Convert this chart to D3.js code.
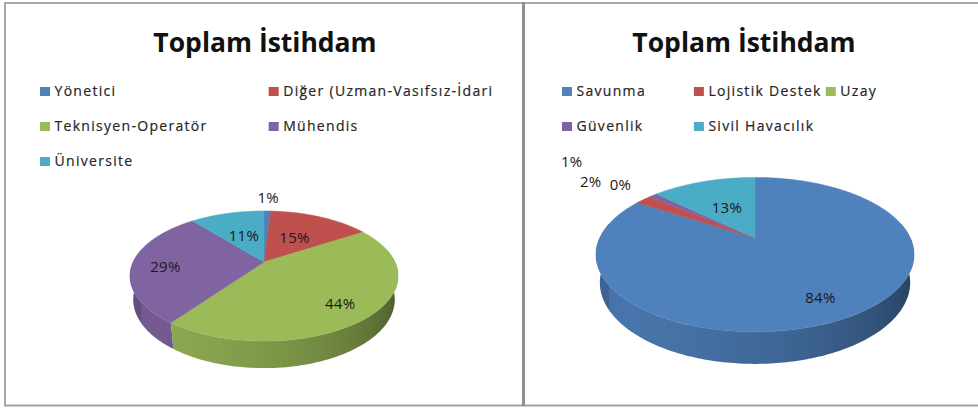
<!DOCTYPE html>
<html>
<head>
<meta charset="utf-8">
<script src="https://cdn.jsdelivr.net/npm/d3@7"></script>
<style>
  body { margin: 0; background: #fff; }
  svg { display: block; font-family: "Open Sans", "DejaVu Sans", sans-serif; }
</style>
</head>
<body>
<script>
// left chart
var leftTitle = "Toplam İstihdam";
var leftCategories = ["Yönetici", "Diğer (Uzman-Vasıfsız-İdari", "Teknisyen-Operatör", "Mühendis", "Üniversite"];
var leftValues = [1, 15, 44, 29, 11];

// right chart
var rightTitle = "Toplam İstihdam";
var rightCategories = ["Savunma", "Lojistik Destek", "Uzay", "Güvenlik", "Sivil Havacılık"];
var rightValues = [84, 2, 0, 1, 13];

// office 2007 colours
var palette = ["#4f81bd", "#c0504d", "#9bbb59", "#8064a2", "#4bacc6"];

var W = 978, H = 408;

// camera for the 3d pie (tilt ~28deg, mild perspective)
var tilt = 28.3 * Math.PI / 180;
var camDist = 4.088;
var thick = 0.206;

var fmt = d3.format(".0%");

var svg = d3.select("body").append("svg")
    .attr("width", W)
    .attr("height", H);
var defs = svg.append("defs");

// frame lines
var frame = svg.append("g").attr("fill", "none");
frame.append("line").attr("x1", 4).attr("x2", W).attr("y1", 3).attr("y2", 3)
    .attr("stroke", "#a7a7ae").attr("stroke-width", 2);
frame.append("line").attr("x1", 5).attr("x2", 5).attr("y1", 2).attr("y2", 406)
    .attr("stroke", "#a7a7ae").attr("stroke-width", 2);
frame.append("line").attr("x1", 4).attr("x2", W).attr("y1", 405.5).attr("y2", 405.5)
    .attr("stroke", "#a0a0a6").attr("stroke-width", 2);
frame.append("line").attr("x1", 523.5).attr("x2", 523.5).attr("y1", 2).attr("y2", 406)
    .attr("stroke", "#909094").attr("stroke-width", 3);

var panels = [
  {id: "l", title: leftTitle, cats: leftCategories, vals: leftValues,
   titleX: 265, legendX: 40, cols: 2, cx: 264, cy: 262, size: 130.9},
  {id: "r", title: rightTitle, cats: rightCategories, vals: rightValues,
   titleX: 744, legendX: 562, cols: 3, cx: 755, cy: 238, size: 155.3}
];

function projector(cx, cy, a) {
  var f = a * camDist;
  return function (theta, r, y) {
    var X = r * Math.sin(theta), Z = r * Math.cos(theta);
    var yc = y * Math.cos(tilt) + Z * Math.sin(tilt);
    var zc = camDist + Z * Math.cos(tilt) - y * Math.sin(tilt);
    return [cx + f * X / zc, cy - f * yc / zc];
  };
}

function shade(col, b) {
  var c = d3.rgb(col);
  return d3.rgb(c.r * b, c.g * b, c.b * b).toString();
}

// light comes from the front left
function wallLight(theta) {
  var d = -0.7 * Math.sin(theta) - 0.7 * Math.cos(theta);
  return 0.62 + 0.28 * d;
}

function drawPanel(p) {
  var g = svg.append("g");

  g.append("text")
      .attr("x", p.titleX)
      .attr("y", 52)
      .attr("text-anchor", "middle")
      .attr("font-size", "26.5px")
      .attr("font-weight", "bold")
      .attr("fill", "#111")
      .text(p.title);

  // legend
  var legend = g.append("g");
  var items = legend.selectAll("g")
      .data(p.cats)
      .enter()
      .append("g");
  items.append("rect")
      .attr("x", 0).attr("y", -9)
      .attr("width", 10).attr("height", 9)
      .attr("fill", function (d, i) { return palette[i]; });
  items.append("text")
      .attr("x", 14.5)
      .attr("y", 0)
      .attr("font-size", "14px")
      .attr("letter-spacing", "1.3px")
      .attr("fill", "#262626")
      .attr("stroke", "#262626")
      .attr("stroke-width", 0.2)
      .text(function (d) { return d; });
  var maxW = d3.max(items.nodes(), function (n) { return n.getBBox().width; });
  var colW = maxW + 4;
  items.attr("transform", function (d, i) {
    return "translate(" + (p.legendX + (i % p.cols) * colW) + "," + (96 + Math.floor(i / p.cols) * 35) + ")";
  });

  // pie
  var data = p.cats.map(function (c, i) { return {name: c, value: p.vals[i], color: palette[i]}; });
  var total = d3.sum(p.vals);
  var arcs = d3.pie().sort(null).value(function (d) { return d.value; })(data);
  var proj = projector(p.cx, p.cy, p.size);
  var step = Math.PI / 180;

  // horizontal shading of the outer wall, one gradient per colour
  var gx1 = p.cx - 1.1 * p.size, gx2 = p.cx + 1.1 * p.size;
  palette.forEach(function (col, ci) {
    var grad = defs.append("linearGradient")
        .attr("id", "wall-" + p.id + "-" + ci)
        .attr("gradientUnits", "userSpaceOnUse")
        .attr("x1", gx1).attr("x2", gx2).attr("y1", 0).attr("y2", 0);
    d3.range(280, 79, -5).forEach(function (deg) {
      var th = deg * Math.PI / 180;
      var x = proj(th, 1, -thick / 2)[0];
      grad.append("stop")
          .attr("offset", Math.max(0, Math.min(1, (x - gx1) / (gx2 - gx1))))
          .attr("stop-color", shade(col, wallLight(th)));
    });
  });

  // outer wall of the front half, back to front
  var lo = Math.PI / 2 - 0.2, hi = 3 * Math.PI / 2 + 0.2;
  var walls = arcs.map(function (a, i) {
    return {t1: Math.max(a.startAngle, lo), t2: Math.min(a.endAngle, hi), ci: i};
  }).filter(function (w) { return w.t2 > w.t1; });
  walls.sort(function (a, b) {
    return Math.cos((b.t1 + b.t2) / 2) - Math.cos((a.t1 + a.t2) / 2);
  });

  g.append("g").selectAll("path")
      .data(walls)
      .enter()
      .append("path")
      .attr("d", function (w) {
        var n = Math.max(2, Math.ceil((w.t2 - w.t1) / step));
        var top = [], bot = [];
        for (var k = 0; k <= n; k++) {
          var t = w.t1 + (w.t2 - w.t1) * k / n;
          top.push(proj(t, 1, 0));
          bot.push(proj(t, 1, -thick));
        }
        return "M" + top.concat(bot.reverse()).join("L") + "Z";
      })
      .attr("fill", function (w) { return "url(#wall-" + p.id + "-" + w.ci + ")"; });

  // top faces
  g.append("g").selectAll("path")
      .data(arcs.filter(function (a) { return a.endAngle > a.startAngle; }))
      .enter()
      .append("path")
      .attr("d", function (a) {
        var pts = [proj(0, 0, 0)];
        var n = Math.max(2, Math.ceil((a.endAngle - a.startAngle) / step));
        for (var k = 0; k <= n; k++) {
          pts.push(proj(a.startAngle + (a.endAngle - a.startAngle) * k / n, 1, 0));
        }
        return "M" + pts.join("L") + "Z";
      })
      .attr("fill", function (a) { return a.data.color; })
      .attr("stroke", function (a) { return a.data.color; })
      .attr("stroke-width", 0.5);

  // data labels
  var labels = arcs.map(function (a, i) {
    var share = total ? a.data.value / total : 0;
    var inside = share >= 0.05;
    var r = inside ? (share < 0.2 ? 0.5 : 0.75) : 1.33;
    var mid = (a.startAngle + a.endAngle) / 2;
    var pos = proj(mid, r, 0);
    return {i: i, share: share, inside: inside, x: pos[0], y: pos[1] + (inside && share >= 0.2 ? 3 : 0), text: fmt(share)};
  });

  var texts = g.append("g").selectAll("text")
      .data(labels)
      .enter()
      .append("text")
      .attr("text-anchor", "middle")
      .attr("dy", "0.35em")
      .attr("font-size", "15px")
      .attr("letter-spacing", "0.3px")
      .attr("fill", "#1a1a1a")
      .text(function (d) { return d.text; });
  texts.each(function (d) { d.w = this.getBBox().width; });

  // push small outside labels outwards until they stop overlapping
  var outside = labels.filter(function (d) { return !d.inside; });
  outside.sort(function (a, b) {
    return (a.share === 0 ? 0 : 1) - (b.share === 0 ? 0 : 1) || a.i - b.i;
  });
  var placed = [];
  outside.forEach(function (d) {
    var dx = d.x - p.cx, dy = d.y - p.cy, len = Math.sqrt(dx * dx + dy * dy);
    var ux = dx / len, uy = dy / len;
    var x0 = d.x, y0 = d.y;
    for (var t = 0; t < 200; t += 0.5) {
      d.x = x0 + ux * t; d.y = y0 + uy * t;
      var hit = placed.some(function (q) {
        return Math.abs(q.x - d.x) < (q.w + d.w) / 2 + 8 && Math.abs(q.y - d.y) < 20;
      });
      if (!hit) break;
    }
    placed.push(d);
  });

  texts.attr("x", function (d) { return d.x; })
      .attr("y", function (d) { return d.y; });
}

panels.forEach(drawPanel);
</script>
</body>
</html>
